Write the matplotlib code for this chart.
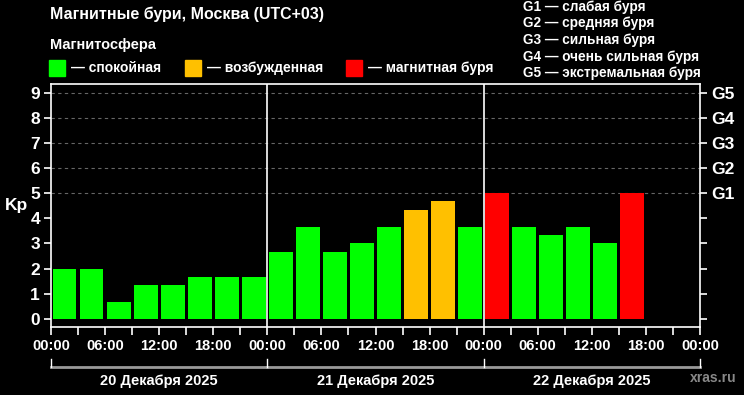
import matplotlib
matplotlib.use("Agg")
import matplotlib.pyplot as plt
import numpy as np

plt.rcParams['font.family'] = ['Liberation Sans', 'DejaVu Sans']
plt.rcParams['font.weight'] = 'bold'

# данные Kp по 3-часовым интервалам
kp = [2, 2, 0.67, 1.33, 1.33, 1.67, 1.67, 1.67,
      2.67, 3.67, 2.67, 3, 3.67, 4.33, 4.67, 3.67,
      5, 3.67, 3.33, 3.67, 3, 5]
hour_labels = ['00:00', '06:00', '12:00', '18:00'] * 3 + ['00:00']
days = ['20 Декабря 2025', '21 Декабря 2025', '22 Декабря 2025']
g_labels = ['G1', 'G2', 'G3', 'G4', 'G5']
g_text = ['G1 — слабая буря', 'G2 — средняя буря', 'G3 — сильная буря',
          'G4 — очень сильная буря', 'G5 — экстремальная буря']

GREEN, ORANGE, RED = '#00ff00', '#ffc000', '#ff0000'

def color(v):
    if v >= 5:
        return RED
    if v >= 4:
        return ORANGE
    return GREEN

fig = plt.figure(figsize=(7.44, 3.95), dpi=100, facecolor='black')
ax = fig.add_axes([51/744, 1-327/395, 649/744, 243/395])
ax.set_facecolor('black')

x = np.arange(len(kp)) + 0.5
ax.bar(x, kp, width=0.88, color=[color(v) for v in kp], zorder=3)

ax.set_xlim(0, 24)
ax.set_ylim(-0.33, 9.35)

for s in ax.spines.values():
    s.set_color('white')
    s.set_linewidth(1.2)

# сетка
for y in range(5, 10):
    ax.axhline(y, color='#666666', lw=0.8, ls=(0, (3, 3)), zorder=1)
for d in (8, 16):
    ax.axvline(d, color='white', lw=1.2, zorder=4)

ax.set_yticks(range(10))
ax.set_yticklabels([str(i) for i in range(10)], color='white', fontsize=12.5)
ax.set_xticks(range(0, 25, 2))
ax.set_xticklabels(hour_labels, color='white', fontsize=10.5)
ax.set_xticks(range(0, 25), minor=True)
ax.tick_params(axis='x', which='both', colors='white', length=6, width=1.2, pad=3)
ax.tick_params(axis='y', colors='white', length=5, width=1.2, pad=3)
ax.set_ylabel('Kp', color='white', fontsize=12.5, fontweight='bold', rotation=0,
              labelpad=10, va='center')

ax2 = ax.twinx()
ax2.set_ylim(ax.get_ylim())
ax2.set_yticks(range(10))
ax2.set_yticklabels([''] * 5 + g_labels, color='white', fontsize=12.5)
ax2.tick_params(axis='y', colors='white', length=5, width=1.2, pad=3)
for s in ax2.spines.values():
    s.set_visible(False)

# подписи дат
tr = ax.get_xaxis_transform()
y_br = -0.165
for d in range(3):
    ax.plot([d*8, d*8+8], [y_br, y_br], color='#999999', lw=2, transform=tr, clip_on=False)
    ax.text(d*8+4, y_br - 0.03, days[d], color='white', fontsize=10.5,
            ha='center', va='top', transform=tr)
for d in range(4):
    ax.plot([d*8, d*8], [y_br, y_br + 0.035], color='white', lw=1, transform=tr, clip_on=False)

fig.text(737/744, 1-378/395, 'xras.ru', color='#888888', fontsize=10, va='center', ha='right')

# заголовок и легенда
fig.text(50/744, 1-14/395, 'Магнитные бури, Москва (UTC+03)', color='white', fontsize=11.5, va='center')
fig.text(50/744, 1-45/395, 'Магнитосфера', color='white', fontsize=10.5, va='center')
leg = [(49, GREEN, '— спокойная'), (185, ORANGE, '— возбужденная'), (346, RED, '— магнитная буря')]
for lx, c, t in leg:
    fig.patches.append(plt.Rectangle((lx/744, 1-76/395), 16/744, 16/395,
                                     color=c, transform=fig.transFigure, figure=fig))
    fig.text((lx+22)/744, 1-68/395, t, color='white', fontsize=10, va='center')

for i, t in enumerate(g_text):
    fig.text(523/744, 1-(7+16.5*i)/395, t, color='white', fontsize=9.8, va='center')

plt.savefig('out.png', dpi=100, facecolor='black')
